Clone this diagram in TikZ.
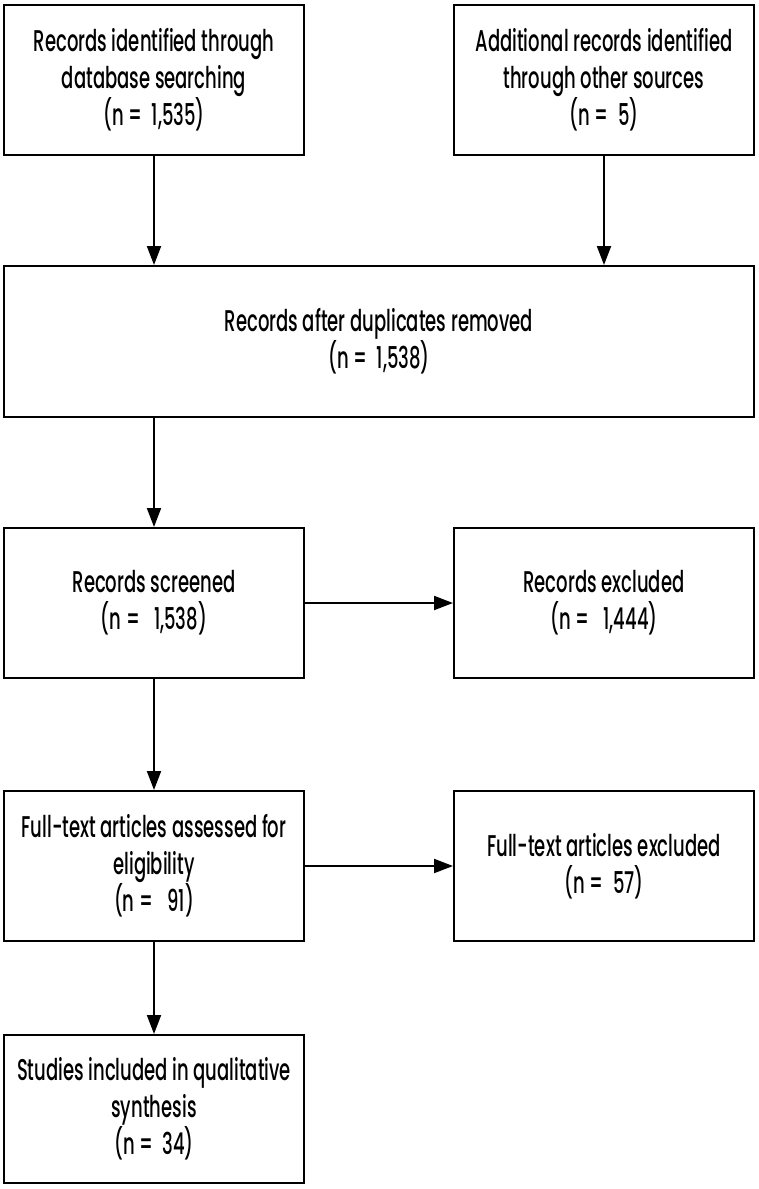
\documentclass[tikz,border=0pt]{standalone}
\usepackage{fontspec}
\setmainfont{Poppins}[FakeStretch=0.6, UprightFont={* Medium}]
\usetikzlibrary{arrows.meta}
\tikzset{
  box/.style={draw, line width=2pt, minimum width=300pt, minimum height=150pt, inner sep=0pt, align=center, font=\fontsize{30}{37}\selectfont},
  conn/.style={line width=2pt, -{Triangle[length=19pt,width=14pt]}}
}
\begin{document}
\begin{tikzpicture}[x=1pt,y=-1pt]
\useasboundingbox (0,0) rectangle (758,1189);
\node[box] (b1) at (154,80) {Records identified through\\database searching\\(n =~~1,535)};
\node[box] (b2) at (604,80) {Additional records identified\\through other sources\\(n =~~5)};
\node[box, minimum width=750pt, minimum height=151pt] (b3) at (379,341.5) {Records after duplicates removed\\(n =~~1,538)};
\node[box] (b4) at (154,603) {Records screened\\(n =~~~1,538)};
\node[box] (b5) at (604,603) {Records excluded\\(n =~~~1,444)};
\node[box] (b6) at (154,866) {Full-text articles assessed for\\eligibility\\(n =~~~91)};
\node[box] (b7) at (604,866) {Full-text articles excluded\\(n =~~57)};
\node[box, minimum height=148pt] (b8) at (154,1109) {Studies included in qualitative\\synthesis\\(n =~~34)};
\draw[conn] (b1.south) -- (b1.south |- b3.north);
\draw[conn] (b2.south) -- (b2.south |- b3.north);
\draw[conn] (b4.north |- b3.south) -- (b4.north);
\draw[conn] (b4.east) -- (b5.west);
\draw[conn] (b4.south) -- (b6.north);
\draw[conn] (b6.east) -- (b7.west);
\draw[conn] (b6.south) -- (b8.north);
\end{tikzpicture}
\end{document}
